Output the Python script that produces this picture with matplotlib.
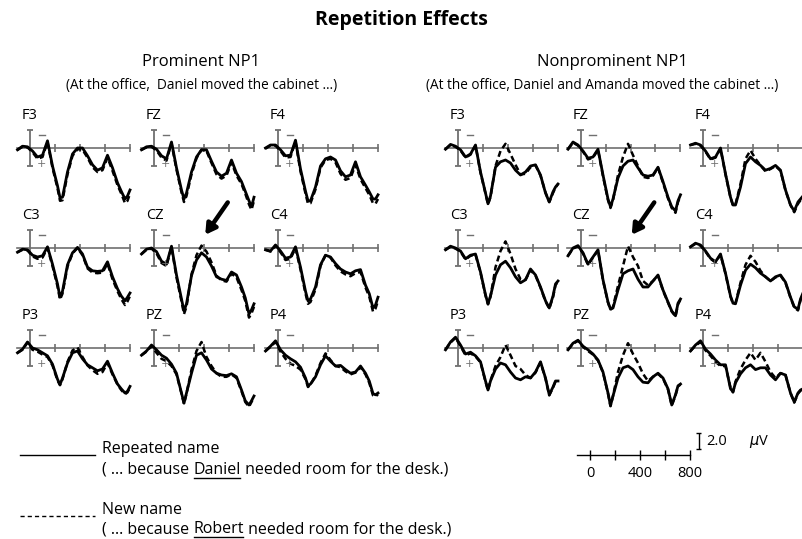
import matplotlib.pyplot as plt

W, H = 803, 539

# time grid (ms) shared by every trace
times = [-100, -60, -20, 20, 60, 100, 140, 180, 220, 240, 260, 300, 340, 380,
         420, 460, 500, 540, 580, 620, 660, 700, 730, 760, 780, 800]

# Prominent NP1 (left), microvolts, negative plotted up
prom_F3_rep = [0.3, -0.3, -0.2, 0.5, 1.5, 1.2, -1.2, 3.0, 6.3, 8.3, 8.2, 4.0, 1.0, 0.0, 0.0, 1.3, 2.8, 3.7, 3.3, 1.2, 3.3, 5.8, 7.2, 8.5, 8.0, 7.0]
prom_F3_new = [0.3, -0.2, -0.1, 0.7, 1.8, 1.5, -1.0, 3.3, 6.7, 8.8, 8.7, 4.4, 1.3, 0.2, 0.3, 1.6, 3.2, 4.0, 3.7, 1.6, 3.8, 6.2, 7.6, 9.2, 8.8, 7.6]
prom_FZ_rep = [0.3, -0.2, -0.3, 0.2, 1.3, 1.8, -1.0, 3.3, 7.0, 8.5, 7.5, 4.0, 1.5, 0.3, 0.3, 2.2, 4.0, 4.7, 4.2, 2.0, 4.2, 5.6, 7.2, 8.8, 9.8, 8.2]
prom_FZ_new = [0.3, -0.1, -0.2, 0.4, 1.6, 2.1, -0.8, 3.6, 7.4, 9.0, 8.0, 4.4, 1.7, 0.3, 0.5, 2.5, 4.4, 5.1, 4.6, 2.4, 4.6, 6.0, 7.6, 9.4, 10.3, 8.8]
prom_F4_rep = [0.0, -0.5, -0.5, 0.3, 1.3, 1.2, -1.3, 3.5, 7.2, 8.8, 8.8, 6.5, 3.0, 1.8, 1.5, 2.0, 3.8, 4.8, 4.5, 2.3, 4.8, 6.2, 7.3, 8.5, 8.5, 7.8]
prom_F4_new = [0.1, -0.4, -0.4, 0.5, 1.6, 1.5, -1.1, 3.9, 7.6, 9.3, 9.2, 6.9, 3.3, 2.0, 1.8, 2.4, 4.3, 5.3, 5.0, 2.8, 5.2, 6.7, 7.8, 9.2, 9.3, 8.5]
prom_C3_rep = [0.7, 0.2, 0.3, 1.2, 1.5, 1.3, -0.2, 2.7, 6.0, 8.2, 7.2, 2.8, 0.8, -0.1, 1.0, 3.2, 3.8, 3.9, 3.8, 2.3, 4.8, 6.8, 8.0, 8.8, 8.2, 7.5]
prom_C3_new = [0.7, 0.3, 0.4, 1.4, 1.8, 1.6, 0.0, 3.0, 6.4, 8.6, 7.6, 3.1, 0.9, 0.0, 1.2, 3.4, 4.1, 4.2, 4.1, 2.6, 5.2, 7.2, 8.5, 9.5, 8.9, 8.0]
prom_CZ_rep = [1.0, 0.2, 0.0, 0.6, 2.2, 2.7, -0.3, 4.5, 8.5, 10.5, 9.3, 4.6, 2.0, 0.8, 1.5, 3.0, 4.8, 5.2, 5.4, 4.0, 4.5, 6.5, 8.3, 11.0, 10.3, 9.3]
prom_CZ_new = [1.0, 0.3, 0.1, 0.9, 2.5, 3.0, -0.2, 4.9, 8.9, 11.0, 9.8, 4.4, 1.2, -0.4, 0.6, 2.4, 4.6, 5.4, 5.6, 4.3, 4.9, 7.0, 8.8, 11.6, 10.9, 9.8]
prom_C4_rep = [0.3, 0.5, -0.5, 0.5, 1.7, 1.5, -0.2, 3.2, 7.2, 8.8, 8.5, 6.5, 2.8, 1.2, 1.5, 2.6, 3.5, 4.0, 4.3, 3.8, 3.6, 6.2, 7.6, 10.0, 9.5, 8.2]
prom_C4_new = [0.3, 0.6, -0.4, 0.7, 2.0, 1.8, 0.0, 3.6, 7.6, 9.3, 9.0, 6.9, 3.0, 1.2, 1.6, 2.9, 3.9, 4.4, 4.7, 4.2, 4.0, 6.6, 8.1, 10.6, 10.1, 8.8]
prom_P3_rep = [0.8, 0.2, -1.0, 0.0, 0.3, 0.8, 1.3, 2.7, 5.2, 6.1, 5.0, 2.5, 0.8, 0.5, 1.8, 2.8, 3.3, 3.8, 3.5, 2.2, 4.2, 6.0, 6.8, 7.5, 7.2, 6.4]
prom_P3_new = [0.8, 0.3, -0.9, 0.3, 0.6, 1.1, 1.5, 2.9, 5.4, 6.2, 5.2, 2.3, 0.4, -0.1, 1.5, 2.9, 3.7, 4.3, 4.0, 2.5, 4.4, 6.1, 7.0, 7.7, 7.4, 6.6]
prom_PZ_rep = [1.2, 0.5, -0.5, 0.3, 1.2, 1.7, 2.7, 4.2, 7.5, 9.2, 7.5, 4.2, 1.2, 0.8, 2.0, 3.5, 4.2, 4.5, 4.6, 4.3, 4.8, 7.0, 8.8, 9.5, 8.8, 8.0]
prom_PZ_new = [1.2, 0.6, -0.3, 0.8, 1.8, 2.2, 3.0, 4.4, 7.6, 9.3, 7.6, 3.6, 0.5, -1.0, 1.5, 3.0, 4.2, 4.8, 4.8, 4.4, 5.0, 7.2, 9.0, 9.8, 9.0, 8.2]
prom_P4_rep = [0.5, -0.3, -1.2, 0.3, 1.2, 1.8, 2.3, 3.2, 5.0, 6.3, 6.0, 4.8, 2.8, 1.3, 2.2, 3.0, 2.9, 3.6, 4.2, 4.0, 3.0, 4.2, 5.5, 7.6, 7.8, 7.5]
prom_P4_new = [0.5, -0.2, -1.0, 0.6, 1.8, 2.6, 3.0, 3.6, 5.2, 6.5, 6.1, 4.6, 2.5, 0.9, 2.0, 3.0, 3.2, 3.9, 4.4, 4.1, 3.2, 4.4, 5.8, 7.9, 8.1, 7.7]

# Nonprominent NP1 (right)
nonp_F3_rep = [0.2, -0.6, -0.3, 0.3, 1.5, 1.0, -0.5, 4.0, 7.5, 9.3, 8.0, 3.2, 2.3, 2.0, 2.5, 3.7, 4.5, 4.0, 3.0, 2.8, 4.5, 7.5, 9.0, 7.3, 6.5, 6.0]
nonp_F3_new = [0.2, -0.5, -0.2, 0.4, 1.6, 1.1, -0.4, 4.1, 7.6, 9.4, 8.2, 3.0, 0.5, -0.7, 1.0, 2.8, 4.4, 4.3, 3.2, 2.9, 4.6, 7.4, 9.0, 7.5, 6.6, 6.0]
nonp_FZ_rep = [0.2, -1.0, -0.5, 0.5, 1.7, 1.5, 0.2, 4.5, 8.5, 9.8, 8.5, 5.0, 3.0, 2.2, 2.0, 3.3, 4.5, 4.7, 4.5, 3.2, 5.6, 8.2, 9.8, 10.5, 8.8, 7.8]
nonp_FZ_new = [0.2, -0.9, -0.4, 0.6, 1.9, 1.6, 0.3, 4.7, 8.7, 10.0, 8.7, 4.5, 1.5, -0.7, 1.2, 3.0, 4.8, 5.0, 4.6, 3.3, 5.8, 8.4, 10.0, 10.8, 9.0, 8.0]
nonp_F4_rep = [-0.5, -0.8, -0.5, 0.5, 1.8, 1.5, 0.0, 4.3, 8.2, 9.5, 9.5, 6.5, 2.6, 1.5, 2.3, 2.9, 3.7, 3.4, 2.9, 3.7, 7.0, 9.5, 10.5, 9.0, 8.5, 8.0]
nonp_F4_new = [-0.5, -0.7, -0.4, 0.6, 1.9, 1.6, 0.1, 4.4, 8.3, 9.6, 9.4, 6.0, 1.8, 0.4, 1.8, 2.9, 3.9, 3.5, 3.0, 3.8, 7.1, 9.5, 10.7, 9.3, 8.7, 8.2]
nonp_C3_rep = [0.3, -0.3, 0.0, 0.5, 1.8, 1.2, 1.0, 4.0, 7.8, 9.3, 8.0, 4.5, 2.8, 2.2, 3.3, 4.8, 5.8, 5.3, 3.5, 4.5, 6.5, 8.8, 10.0, 8.0, 6.0, 5.5]
nonp_C3_new = [0.3, -0.2, 0.1, 0.6, 1.9, 1.3, 1.1, 4.1, 7.9, 9.4, 8.1, 3.2, 0.5, -1.1, 1.0, 3.5, 5.2, 5.3, 3.7, 4.6, 6.6, 8.9, 10.1, 8.2, 6.2, 5.6]
nonp_CZ_rep = [1.3, 0.0, -0.4, 0.8, 2.7, 1.5, 0.3, 5.3, 9.0, 10.2, 10.0, 7.0, 4.3, 3.8, 3.5, 5.2, 6.5, 6.5, 5.5, 4.5, 7.0, 9.0, 10.5, 11.3, 9.2, 8.5]
nonp_CZ_new = [1.3, 0.1, -0.3, 0.9, 2.8, 1.6, 0.4, 5.4, 9.1, 10.3, 9.8, 6.3, 3.0, -0.3, 1.5, 3.0, 5.5, 6.2, 5.5, 4.6, 7.1, 9.1, 10.6, 11.4, 9.4, 8.6]
nonp_C4_rep = [-0.2, -0.8, -0.5, 0.5, 1.7, 2.3, 1.0, 4.2, 8.0, 9.2, 9.3, 6.2, 3.7, 2.7, 3.3, 4.2, 4.8, 5.5, 4.8, 4.5, 5.7, 8.2, 9.8, 10.2, 8.5, 7.5]
nonp_C4_new = [-0.2, -0.7, -0.4, 0.6, 1.8, 2.4, 1.1, 4.3, 8.1, 9.3, 9.2, 5.8, 2.8, 1.3, 2.3, 3.8, 4.8, 5.5, 4.9, 4.6, 5.8, 8.3, 9.9, 10.4, 8.7, 7.7]
nonp_P3_rep = [0.3, -1.0, -1.8, -0.5, 1.0, 0.7, 1.3, 2.3, 5.5, 7.0, 5.5, 3.5, 2.5, 2.8, 4.0, 5.0, 5.3, 4.8, 5.0, 4.0, 2.3, 5.0, 7.8, 6.5, 5.5, 5.5]
nonp_P3_new = [0.3, -0.9, -1.7, -0.3, 1.2, 0.9, 1.4, 2.4, 5.6, 7.1, 5.4, 3.0, 1.5, -0.5, 1.2, 3.0, 3.5, 4.5, 5.0, 4.1, 2.4, 5.1, 7.9, 6.6, 5.6, 5.6]
nonp_PZ_rep = [0.3, -0.8, -1.3, -0.3, 0.3, 1.0, 2.0, 4.0, 7.5, 9.6, 8.0, 5.0, 3.3, 3.0, 3.6, 4.8, 5.7, 5.8, 4.8, 4.2, 5.0, 6.8, 9.5, 7.8, 6.3, 6.0]
nonp_PZ_new = [0.3, -0.7, -1.2, -0.2, 0.5, 1.1, 2.1, 4.1, 7.6, 9.7, 8.0, 4.0, 1.2, -0.8, 1.0, 2.5, 4.3, 5.5, 4.8, 4.3, 5.1, 6.9, 9.6, 7.9, 6.4, 6.1]
nonp_P4_rep = [0.5, -0.5, -1.2, 0.2, 1.0, 2.0, 2.8, 2.8, 6.8, 7.3, 5.8, 4.3, 3.3, 2.8, 3.6, 3.3, 3.3, 4.5, 5.3, 4.2, 4.5, 7.5, 9.0, 7.5, 7.0, 6.8]
nonp_P4_new = [0.5, -0.4, -1.0, 0.4, 1.3, 2.3, 3.0, 3.0, 6.6, 7.4, 5.6, 3.5, 2.0, 0.8, 2.0, 0.8, 2.3, 4.0, 5.0, 4.2, 4.5, 7.5, 9.1, 7.6, 7.1, 6.9]

electrodes = [['F3', 'FZ', 'F4'], ['C3', 'CZ', 'C4'], ['P3', 'PZ', 'P4']]
tick_times = [200, 400, 600, 800]
scale_ticks = [0, 200, 400, 600, 800]
scale_labels = ['0', '400', '800']

prom = {
    'F3': (prom_F3_rep, prom_F3_new), 'FZ': (prom_FZ_rep, prom_FZ_new), 'F4': (prom_F4_rep, prom_F4_new),
    'C3': (prom_C3_rep, prom_C3_new), 'CZ': (prom_CZ_rep, prom_CZ_new), 'C4': (prom_C4_rep, prom_C4_new),
    'P3': (prom_P3_rep, prom_P3_new), 'PZ': (prom_PZ_rep, prom_PZ_new), 'P4': (prom_P4_rep, prom_P4_new),
}
nonp = {
    'F3': (nonp_F3_rep, nonp_F3_new), 'FZ': (nonp_FZ_rep, nonp_FZ_new), 'F4': (nonp_F4_rep, nonp_F4_new),
    'C3': (nonp_C3_rep, nonp_C3_new), 'CZ': (nonp_CZ_rep, nonp_CZ_new), 'C4': (nonp_C4_rep, nonp_C4_new),
    'P3': (nonp_P3_rep, nonp_P3_new), 'PZ': (nonp_PZ_rep, nonp_PZ_new), 'P4': (nonp_P4_rep, nonp_P4_new),
}

HEAD = ['Open Sans', 'DejaVu Sans']
AXC = '#707070'
PX_MS = 0.125   # pixels per ms
PX_UV = 6.0     # pixels per microvolt
T0, T1 = -130, 830
V0, V1 = -5.5, 11.2
LEG_FS = 11.5

fig = plt.figure(figsize=(W / 100, H / 100), dpi=100)


def add_panel(bx, by):
    left = bx + T0 * PX_MS
    top = by + V0 * PX_UV
    w = (T1 - T0) * PX_MS
    h = (V1 - V0) * PX_UV
    ax = fig.add_axes([left / W, 1 - (top + h) / H, w / W, h / H])
    ax.set_xlim(T0, T1)
    ax.set_ylim(V1, V0)
    ax.axis('off')
    return ax


def draw_axes(ax):
    ax.plot([-105, 800], [0, 0], color=AXC, lw=1.2, clip_on=False)
    ax.vlines(tick_times, -0.7, 0.7, color=AXC, lw=1.2)
    ax.vlines([0], -3, 3, color=AXC, lw=1.3)
    ax.hlines([-3, 3], -25, 25, color=AXC, lw=1.3)
    ax.plot([70, 120], [-2.2, -2.2], color=AXC, lw=1.0)
    ax.text(95, 2.6, '+', color=AXC, fontsize=8, ha='center', va='center')


def draw_panel(bx, by, name, rep, new):
    ax = add_panel(bx, by)
    draw_axes(ax)
    ax.plot(times, new, color='black', lw=1.8, ls=(0, (2.4, 1.4)), clip_on=False)
    ax.plot(times, rep, color='black', lw=2.0, clip_on=False)
    ax.text(-64, -5.4, name, fontsize=10.5, family=HEAD, va='center', ha='left')
    if name == 'CZ':
        ax.annotate('', xy=(410, -2.2), xytext=(590, -7.6), annotation_clip=False,
                    arrowprops=dict(arrowstyle='-|>,head_length=0.6,head_width=0.35',
                                    lw=3.2, color='black', shrinkA=0, shrinkB=0))


col_x = {'prom': [30, 154, 278], 'nonp': [458, 580.5, 703]}
row_y = [148, 248, 348]

for cond, data in (('prom', prom), ('nonp', nonp)):
    for r, row in enumerate(electrodes):
        for c, name in enumerate(row):
            rep, new = data[name]
            draw_panel(col_x[cond][c], row_y[r], name, rep, new)

# overlay in pixel coordinates for text and legend
ov = fig.add_axes([0, 0, 1, 1])
ov.set_xlim(0, W)
ov.set_ylim(H, 0)
ov.axis('off')

ov.text(401, 20, 'Repetition Effects', fontsize=14, fontweight='bold', family=HEAD, ha='center', va='center')
ov.text(201, 62, 'Prominent NP1', fontsize=12, family=HEAD, ha='center', va='center')
ov.text(202, 86, '(At the office,  Daniel moved the cabinet \u2026)', fontsize=9.8, family=HEAD, ha='center', va='center')
ov.text(612, 62, 'Nonprominent NP1', fontsize=12, family=HEAD, ha='center', va='center')
ov.text(602, 86, '(At the office, Daniel and Amanda moved the cabinet \u2026)', fontsize=9.8, family=HEAD, ha='center', va='center')

# legend
ov.plot([20, 95], [455, 455], color='black', lw=1.0)
ov.plot([20, 95], [516, 516], color='black', lw=1.0, ls=(0, (3, 2.2)))
ov.text(102, 449, 'Repeated name', fontsize=LEG_FS, family=HEAD, va='center')
ov.text(102, 510, 'New name', fontsize=LEG_FS, family=HEAD, va='center')

renderer = fig.canvas.get_renderer()


def underlined_line(y, name):
    t1 = ov.text(102, y, '( \u2026 because ', fontsize=LEG_FS, family=HEAD, va='center')
    bb = t1.get_window_extent(renderer)
    x1 = ov.transData.inverted().transform((bb.x1, 0))[0]
    t2 = ov.text(x1, y, name, fontsize=LEG_FS, family=HEAD, va='center')
    bb2 = t2.get_window_extent(renderer)
    x2 = ov.transData.inverted().transform((bb2.x1, 0))[0]
    ov.plot([x1 + 0.5, x2 - 0.5], [y + 7.5, y + 7.5], color='black', lw=1.0)
    ov.text(x2, y, ' needed room for the desk.)', fontsize=LEG_FS, family=HEAD, va='center')


underlined_line(470, 'Daniel')
underlined_line(529, 'Robert')

# scale bar using the same scaling as the panels
sax = add_panel(590, 455)
sax.plot([-100, 800], [0, 0], color='black', lw=1.0)
sax.vlines(scale_ticks, -0.8, 0.8, color='black', lw=1.0)
for lab in scale_labels:
    sax.text(int(lab), 3.0, lab, fontsize=10.5, family=HEAD, ha='center', va='center')
sax.vlines([870], -3.6, -1.0, color='black', lw=1.0, clip_on=False)
sax.hlines([-3.6, -1.0], 852, 888, color='black', lw=1.0, clip_on=False)
sax.text(930, -2.3, '2.0', fontsize=10.5, family=HEAD, va='center', ha='left', clip_on=False)
sax.text(1270, -2.3, '$\\mu$V', fontsize=10.5, family=HEAD, va='center', ha='left', clip_on=False)

fig.savefig('out.png', dpi=100)
